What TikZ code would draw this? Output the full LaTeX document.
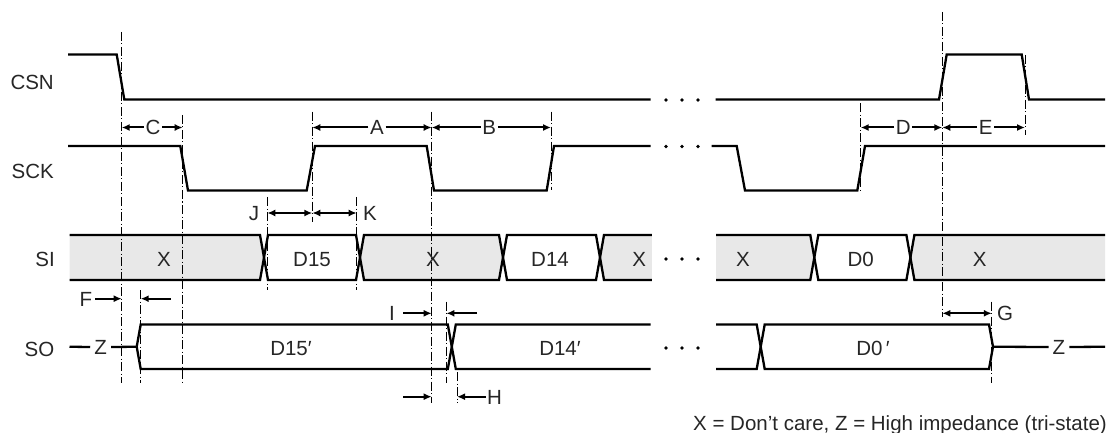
\documentclass[tikz,border=0pt]{standalone}
\usepackage{fontspec}
\setmainfont{Liberation Sans}
\usetikzlibrary{arrows.meta,calc}
\tikzset{>={Latex[length=8pt,width=7pt]}}
\definecolor{dcgray}{HTML}{E8E8E8}
\definecolor{txtgray}{HTML}{262626}

\begin{document}
\begin{tikzpicture}[x=1pt,y=-1pt,
    font=\fontsize{20.5}{24}\selectfont,
    wave/.style={line width=2.3pt},
    guide/.style={line width=0.9pt,dash pattern=on 9pt off 2.5pt on 1pt off 2.5pt},
    dim/.style={line width=2pt},
    sig/.style={text=txtgray,anchor=base east,inner sep=0pt},
    lbl/.style={text=txtgray,inner sep=1.5pt,text height=14.7pt,text depth=0pt},
    dcfill/.style={fill=dcgray}]
  \useasboundingbox (0,0) rectangle (1109,433);

  % don't care regions of SI
  \fill[dcfill] (69.5,235) -- (260,235) -- (264,257.5) -- (260,280) -- (69.5,280) -- cycle;
  \fill[dcfill] (364,235) -- (499,235) -- (503,257.5) -- (499,280) -- (364,280) -- (360,257.5) -- cycle;
  \fill[dcfill] (604,235) -- (651.8,235) -- (651.8,280) -- (604,280) -- (600,257.5) -- cycle;
  \fill[dcfill] (716,235) -- (810.3,235) -- (814.3,257.5) -- (810.3,280) -- (716,280) -- cycle;
  \fill[dcfill] (914.4,235) -- (1105,235) -- (1105,280) -- (914.4,280) -- (910.4,257.5) -- cycle;

  % timing guides
  \foreach \n/\x/\ya/\yb in {m1/121.7/32/383, m2/182.7/115/383, m3/312.3/111.7/222,
      m4/431.7/111.7/403, m5/551/111.7/190, m6/267.3/197/290, m7/356.7/197/290,
      m8/140.7/290/383, m9/446.4/301.7/383, m10/457/372/403, m11/860.7/103.3/190,
      m12/942.3/12/317, m13/1025/55/135, m14/991.8/301.7/383}{
    \coordinate (\n) at (\x,\ya);
    \draw[guide] (\n) -- (\x,\yb);
  }

  % signal names
  \node[sig] (nCSN) at (54,89.5) {CSN};
  \node[sig] (nSCK) at (54,178.3) {SCK};
  \node[sig] (nSI) at (55,266.5) {SI};
  \node[sig] (nSO) at (54.5,356) {SO};

  % CSN and SCK
  \draw[wave] (68,54.5) -- (116.7,54.5) -- (124.3,99.5) -- (650.7,99.5);
  \draw[wave] (715.7,99.5) -- (939,99.5) -- (946.7,54.5) -- (1021.7,54.5) -- (1029,99.5) -- (1105,99.5);
  \draw[wave] (68,146) -- (180.3,146) -- (188,190.5) -- (306.7,190.5) -- (315,146) -- (426.7,146)
    -- (434,190.5) -- (546.7,190.5) -- (554,146) -- (650.7,146);
  \draw[wave] (711.7,146) -- (736.7,146) -- (745,190.5) -- (857.3,190.5) -- (865,146) -- (1105,146);

  % SI
  \draw[wave] (69.5,235) -- (260,235) -- (268,280) -- (356,280) -- (364,235) -- (499,235)
    -- (507,280) -- (596,280) -- (604,235) -- (651.8,235);
  \draw[wave] (69.5,280) -- (260,280) -- (268,235) -- (356,235) -- (364,280) -- (499,280)
    -- (507,235) -- (596,235) -- (604,280) -- (651.8,280);
  \draw[wave] (716,235) -- (810.3,235) -- (818.3,280) -- (906.4,280) -- (914.4,235) -- (1105,235);
  \draw[wave] (716,280) -- (810.3,280) -- (818.3,235) -- (906.4,235) -- (914.4,280) -- (1105,280);
  \node[lbl] (si1) at (164,259) {X};
  \node[lbl] (si2) at (312,259) {D15};
  \node[lbl] (si3) at (433,259) {X};
  \node[lbl] (si4) at (550,259) {D14};
  \node[lbl] (si5) at (639.3,259) {X};
  \node[lbl] (si6) at (742.9,259) {X};
  \node[lbl] (si7) at (860.7,259) {D0};
  \node[lbl] (si8) at (979.6,259) {X};

  % SO
  \node[lbl,inner sep=4pt] (zL) at (100.7,347) {Z};
  \node[lbl,inner sep=4pt] (zR) at (1059,347) {Z};
  \draw[wave] (69.5,346.75) -- (zL.west);
  \draw[wave] (zL.east) -- (136.7,346.75);
  \draw[wave] (136.7,346.75) -- (140.7,324.5) -- (447.8,324.5) -- (455.8,369) -- (650.7,369);
  \draw[wave] (136.7,346.75) -- (140.7,369) -- (447.8,369) -- (455.8,324.5) -- (650.7,324.5);
  \draw[wave] (716,324.5) -- (756.7,324.5) -- (764.7,369) -- (989,369) -- (993,346.75);
  \draw[wave] (716,369) -- (756.7,369) -- (764.7,324.5) -- (989,324.5) -- (993,346.75);
  \draw[wave] (993,346.75) -- (zR.west);
  \draw[wave] (zR.east) -- (1105,346.75);
  \node[lbl] (so1) at (291,348) {D15′};
  \node[lbl] (so2) at (560,348) {D14′};
  \node[lbl] (so3) at (873,348) {D0\,′};

  % continuation dots
  \foreach \y in {100,146.5,259,348}
    \foreach \x in {666,682,698}
      \fill (\x,\y) circle (1.9pt);

  % timing parameters
  \node[lbl] (lC) at (153,127.5) {C};
  \node[lbl] (lA) at (377,127.5) {A};
  \node[lbl] (lB) at (489.3,127.5) {B};
  \node[lbl] (lD) at (903.3,127.5) {D};
  \node[lbl] (lE) at (985.7,127.5) {E};
  \foreach \l/\a/\b in {lC/m1/m2, lA/m3/m4, lB/m4/m5, lD/m11/m12, lE/m12/m13}{
    \draw[dim,->] (\l.west) -- (\a |- \l);
    \draw[dim,->] (\l.east) -- (\b |- \l);
  }
  \node[lbl] (lJ) at (254,213) {J};
  \node[lbl] (lK) at (370,213) {K};
  \draw[dim,<->] (m6 |- lJ) -- (m3 |- lJ);
  \draw[dim,<->] (m3 |- lK) -- (m7 |- lK);

  \node[lbl,inner sep=3pt] (lF) at (86,298.7) {F};
  \coordinate (fR) at (170.7,298.7);
  \draw[dim,->] (lF.east) -- (m1 |- lF);
  \draw[dim,->] (fR) -- (m8 |- fR);

  \node[lbl] (lI) at (392,313.3) {I};
  \coordinate (iL) at (403,313.3);
  \coordinate (iR) at (477,313.3);
  \draw[dim,->] (iL) -- (m4 |- iL);
  \draw[dim,->] (iR) -- (m9 |- iR);

  \node[lbl] (lH) at (494.6,396.7) {H};
  \coordinate (hL) at (403,396.7);
  \draw[dim,->] (hL) -- (m4 |- hL);
  \draw[dim,->] (lH.west) -- (m10 |- lH);

  \node[lbl] (lG) at (1005,313.3) {G};
  \draw[dim,<->] (m12 |- lG) -- (m14 |- lG);

  % legend
  \node[sig,anchor=base east] (legend) at (1107,430) {X = Don’t care, Z = High impedance (tri-state)};
\end{tikzpicture}
\end{document}
